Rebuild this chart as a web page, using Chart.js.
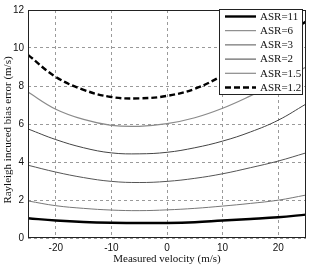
<!DOCTYPE html>
<html>
<head>
<meta charset="utf-8">
<script src="https://cdn.jsdelivr.net/npm/chart.js@4/dist/chart.umd.min.js"></script>
<style>
  html, body { margin: 0; padding: 0; background: #fff; }
  #wrap { width: 309px; height: 267px; }
</style>
</head>
<body>
<div id="wrap"><canvas id="c"></canvas></div>
<script>
// measured velocity (m/s)
const velocity = [-25, -20, -15, -10, -5, 0, 5, 10, 15, 20, 25];

// bias error (m/s) for each ASR
const asr11  = [1.04, 0.92, 0.84, 0.80, 0.79, 0.79, 0.83, 0.92, 1.00, 1.09, 1.23];
const asr6   = [1.95, 1.70, 1.56, 1.47, 1.44, 1.48, 1.56, 1.68, 1.82, 1.99, 2.26];
const asr3   = [3.83, 3.47, 3.18, 2.98, 2.92, 2.98, 3.14, 3.38, 3.70, 4.05, 4.48];
const asr2   = [5.74, 5.18, 4.75, 4.48, 4.43, 4.51, 4.75, 5.10, 5.58, 6.20, 7.05];
const asr1_5 = [7.68, 6.78, 6.24, 5.93, 5.88, 6.02, 6.33, 6.83, 7.48, 8.20, 9.00];
const asr1_2 = [9.64, 8.48, 7.80, 7.42, 7.35, 7.48, 7.85, 8.55, 9.40, 10.35, 11.40];

const xTicks = [-20, -10, 0, 10, 20];
const yTicks = [0, 2, 4, 6, 8, 10, 12];

const pts = arr => arr.map((v, i) => ({ x: velocity[i], y: v }));

const serif = '"Liberation Serif", "DejaVu Serif", serif';
const sans = '"Liberation Sans", Arial, sans-serif';

const series = (label, data, color, width, dash) => ({
  label, data: pts(data), borderColor: color, borderWidth: width,
  borderDash: dash || [], pointRadius: 0, fill: false, tension: 0.4
});

// frame, axis titles and MATLAB-like legend
const extras = {
  id: 'extras',
  afterDatasetsDraw(chart) {
    const { ctx, chartArea: a } = chart;
    ctx.save();
    ctx.strokeStyle = '#222';
    ctx.lineWidth = 1;
    ctx.setLineDash([]);
    ctx.strokeRect(a.left + 0.5, a.top + 0.5, a.right - a.left - 1, a.bottom - a.top - 1);

    ctx.fillStyle = '#111';
    ctx.font = '11px ' + serif;
    ctx.textAlign = 'center';
    ctx.textBaseline = 'middle';
    ctx.fillText('Measured velocity (m/s)', (a.left + a.right) / 2, 259);
    ctx.translate(8, 130);
    ctx.rotate(-Math.PI / 2);
    ctx.fillText('Rayleigh incuced bias error (m/s)', 0, 0);
    ctx.restore();

    // legend
    const bx = 219.5, by = 9.5, bw = 83, bh = 85;
    ctx.save();
    ctx.fillStyle = '#fff';
    ctx.fillRect(bx, by, bw, bh);
    ctx.strokeStyle = '#222';
    ctx.lineWidth = 1;
    ctx.strokeRect(bx, by, bw, bh);
    ctx.font = '11px ' + serif;
    ctx.textAlign = 'left';
    ctx.textBaseline = 'middle';
    chart.data.datasets.forEach((ds, i) => {
      const y = 16.5 + i * 14.2;
      ctx.strokeStyle = ds.borderColor;
      ctx.lineWidth = ds.borderWidth;
      ctx.setLineDash(ds.borderDash);
      ctx.beginPath();
      ctx.moveTo(225, y);
      ctx.lineTo(256, y);
      ctx.stroke();
      ctx.fillStyle = '#111';
      ctx.fillText(ds.label, 260, y + 0.5);
    });
    ctx.restore();
  }
};

new Chart(document.getElementById('c'), {
  type: 'line',
  data: {
    datasets: [
      series('ASR=11', asr11, '#000', 2.4),
      series('ASR=6', asr6, '#777', 1),
      series('ASR=3', asr3, '#555', 1),
      series('ASR=2', asr2, '#444', 1),
      series('ASR=1.5', asr1_5, '#8a8a8a', 1.2),
      series('ASR=1.2', asr1_2, '#000', 2.4, [6, 3])
    ]
  },
  options: {
    responsive: true,
    maintainAspectRatio: false,
    animation: false,
    layout: { padding: { top: 4, right: 3, left: 0, bottom: 0 } },
    plugins: { legend: { display: false }, tooltip: { enabled: false } },
    scales: {
      x: {
        type: 'linear', min: -25, max: 25,
        afterBuildTicks: s => { s.ticks = xTicks.map(v => ({ value: v })); },
        afterFit: s => { s.height = 29; },
        grid: { color: '#9a9a9a', lineWidth: 1, drawTicks: false },
        border: { display: false, dash: [3, 3] },
        ticks: { color: '#111', font: { family: sans, size: 10 }, padding: 4 }
      },
      y: {
        type: 'linear', min: 0, max: 12,
        afterBuildTicks: s => { s.ticks = yTicks.map(v => ({ value: v })); },
        afterFit: s => { s.width = 28; },
        grid: { color: '#9a9a9a', lineWidth: 1, drawTicks: false },
        border: { display: false, dash: [3, 3] },
        ticks: { color: '#111', font: { family: sans, size: 10 }, padding: 4 }
      }
    }
  },
  plugins: [extras]
});
</script>
</body>
</html>
